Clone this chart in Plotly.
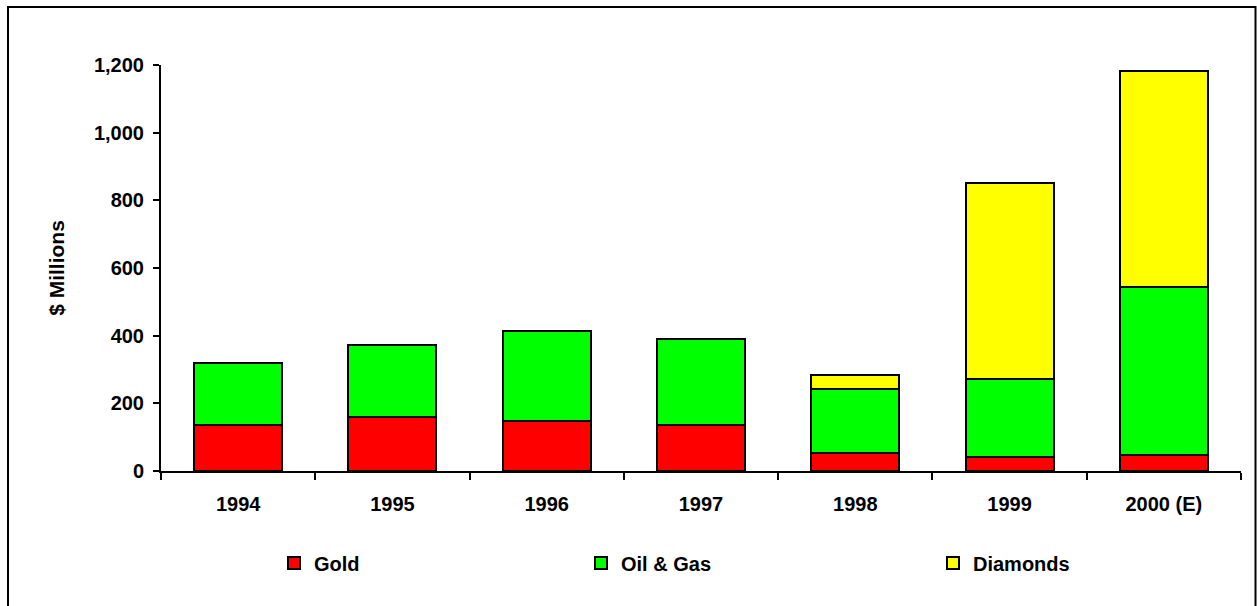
import plotly.graph_objects as go

years = ["1994", "1995", "1996", "1997", "1998", "1999", "2000 (E)"]
gold = [137, 160, 149, 136, 53, 42, 48]
oil_gas = [183, 213, 265, 254, 189, 230, 496]
diamonds = [0, 0, 0, 0, 42, 579, 638]
y_ticks = [0, 200, 400, 600, 800, 1000, 1200]

W, H = 1257, 606
L, R, T, B = 161, 16, 65, 135
pw, ph = W - L - R, H - T - B

FAM = "Liberation Sans, Arial, sans-serif"
font = dict(family=FAM, size=20, color="black")

fig = go.Figure()
series = [("Gold", gold, "#FF0000", "legend"),
          ("Oil & Gas", oil_gas, "#00FF00", "legend2"),
          ("Diamonds", diamonds, "#FFFF00", "legend3")]
for name, vals, col, lg in series:
    fig.add_trace(go.Bar(x=years, y=vals, name=f"<b>{name}</b>",
                         marker=dict(color=col, line=dict(color="black", width=2)),
                         width=0.57, legend=lg, showlegend=True))

def px_x(x):
    return (x - L) / pw

def px_y(y):
    return (H - B - y) / ph

leg_common = dict(orientation="h", font=dict(family=FAM, size=20, color="black"),
                  yanchor="middle", xanchor="left", bgcolor="rgba(0,0,0,0)", itemwidth=30,
                  visible=True)

fig.update_layout(
    width=W, height=H,
    margin=dict(l=L, r=R, t=T, b=B, autoexpand=False),
    barmode="stack",
    showlegend=True,
    plot_bgcolor="white", paper_bgcolor="white",
    font=font,
    xaxis=dict(showline=True, linecolor="black", linewidth=2, ticks="outside", tickson="boundaries",
               ticklen=7, tickwidth=2, tickcolor="black", showgrid=False, ticklabelstandoff=14,
               tickvals=years, ticktext=[f"<b>{y}</b>" for y in years]),
    yaxis=dict(range=[0, 1200], showline=True, linecolor="black", linewidth=2,
               ticks="outside", ticklen=6, tickwidth=2, tickcolor="black", showgrid=False, zeroline=False,
               ticklabelstandoff=5,
               tickvals=y_ticks, ticktext=[f"<b>{v:,}</b>" for v in y_ticks],
               title=dict(text="<b>$ Millions</b>", standoff=24, font=dict(size=21))),
    legend=dict(x=px_x(274), y=px_y(563), **leg_common),
    legend2=dict(x=px_x(581), y=px_y(563), **leg_common),
    legend3=dict(x=px_x(933), y=px_y(563), **leg_common),
    shapes=[dict(type="rect", xref="paper", yref="paper",
                 x0=px_x(8), x1=px_x(1255.5), y0=px_y(612), y1=px_y(7),
                 line=dict(color="black", width=2), fillcolor="rgba(0,0,0,0)", layer="below")],
)

fig.write_html("out.html", config={"displayModeBar": False},
               post_script="document.body.style.margin='0';document.body.style.padding='0';")
